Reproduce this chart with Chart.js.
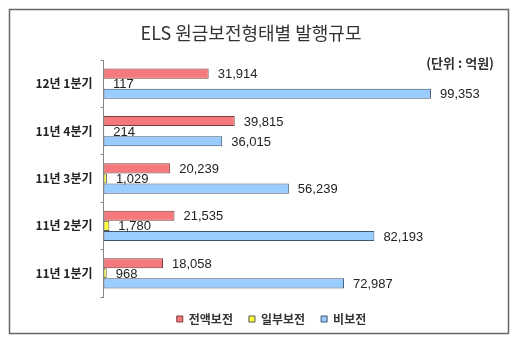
<!DOCTYPE html>
<html>
<head>
<meta charset="utf-8">
<script src="https://cdn.jsdelivr.net/npm/chart.js@4"></script>
<style>
html, body { margin: 0; padding: 0; background: #fff; }
#wrap { width: 520px; height: 343px; }
</style>
</head>
<body>
<div id="wrap"><canvas id="myChart" width="520" height="343"></canvas></div>
<script>
const labels = ['12년 1분기', '11년 4분기', '11년 3분기', '11년 2분기', '11년 1분기'];
const fullGuard = [31914, 39815, 20239, 21535, 18058];
const partGuard = [117, 214, 1029, 1780, 968];
const noGuard = [99353, 36015, 56239, 82193, 72987];
const seriesNames = ['전액보전', '일부보전', '비보전'];

const KR = "'Noto Sans CJK KR', 'Noto Sans', sans-serif";

// frame, title, unit and value labels
const decor = {
id: 'decor',
afterLayout(chart) {
// legend sits a bit right of centre in the original
chart.legend.left += 22;
chart.legend.right += 22;
},
beforeDraw(chart) {
const ctx = chart.ctx;
ctx.save();
ctx.fillStyle = '#fff';
ctx.fillRect(0, 0, chart.width, chart.height);
ctx.strokeStyle = '#666';
ctx.lineWidth = 1.5;
ctx.strokeRect(9.5, 9.5, 499, 324);
ctx.fillStyle = '#333';
ctx.font = '18px ' + KR;
ctx.textAlign = 'center';
ctx.textBaseline = 'middle';
ctx.fillText('ELS 원금보전형태별 발행규모', 251, 33);
ctx.font = 'bold 13px ' + KR;
ctx.textAlign = 'right';
ctx.fillText('(단위 : 억원)', 494, 63);
ctx.restore();
},
afterDatasetsDraw(chart) {
const ctx = chart.ctx;
ctx.save();
ctx.font = "13px 'Liberation Sans', Arial, sans-serif";
ctx.fillStyle = '#222';
ctx.textBaseline = 'middle';
chart.data.datasets.forEach((ds, i) => {
chart.getDatasetMeta(i).data.forEach((bar, j) => {
ctx.fillText(ds.data[j].toLocaleString('en-US'), bar.x + 9, bar.y + 1);
});
});
ctx.restore();
}
};

const data = {
labels: labels,
datasets: [
{ label: seriesNames[0], data: fullGuard, backgroundColor: '#f4787c', borderColor: '#7a3b3b', borderWidth: 1 },
{ label: seriesNames[1], data: partGuard, backgroundColor: '#ffff33', borderColor: '#555', borderWidth: 1 },
{ label: seriesNames[2], data: noGuard, backgroundColor: '#99ccff', borderColor: '#3f5570', borderWidth: 1 }
]
};

const config = {
type: 'bar',
data: data,
plugins: [decor],
options: {
indexAxis: 'y',
responsive: false,
animation: false,
layout: { padding: { left: 0, right: 21, top: 60, bottom: 8 } },
datasets: { bar: { categoryPercentage: 0.64, barPercentage: 1.0, borderSkipped: false } },
plugins: {
title: { display: false },
tooltip: { enabled: false },
legend: {
position: 'bottom',
labels: {
color: '#333',
boxWidth: 6,
boxHeight: 6,
padding: 16,
font: { family: KR, size: 12, weight: 'bold' }
}
}
},
scales: {
x: { display: false, min: 0, max: 120000 },
y: {
afterFit(scale) { scale.width = 103.5; },
border: { display: true, color: '#888', width: 1 },
grid: { drawOnChartArea: false, drawTicks: true, tickLength: 3, color: '#888' },
ticks: { color: '#222', padding: 8, font: { family: KR, size: 12, weight: 'bold' } }
}
}
}
};

const myChart = new Chart(document.getElementById('myChart'), config);
</script>
</body>
</html>
